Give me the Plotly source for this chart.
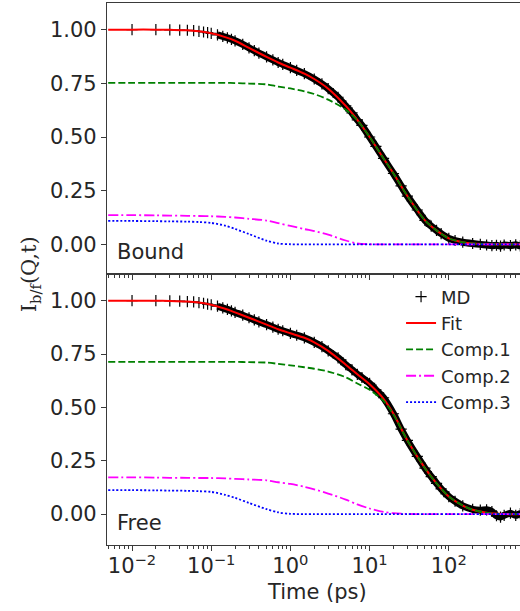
import plotly.graph_objects as go

# ---------------- data ----------------
md_t = [0.01, 0.02, 0.03, 0.04, 0.05, 0.06, 0.07, 0.08, 0.09, 0.1, 0.12, 0.14, 0.16, 0.18, 0.2,
        0.25, 0.3, 0.35, 0.4, 0.5, 0.6, 0.7, 0.8, 1.0, 1.2, 1.5, 2, 2.5, 3, 4, 5, 6, 7, 8, 10,
        12, 15, 20, 25, 30, 40, 50, 60, 70, 80, 100, 120, 150, 200, 250, 300, 350, 400, 450,
        500, 600, 700, 800, 900]
md_bound = [1.000, 1.000, 0.999, 0.998, 0.997, 0.995, 0.992, 0.989, 0.986, 0.983, 0.976, 0.969,
            0.962, 0.955, 0.948, 0.931, 0.915, 0.902, 0.891, 0.873, 0.859, 0.847, 0.838, 0.823,
            0.810, 0.795, 0.770, 0.747, 0.725, 0.685, 0.645, 0.612, 0.580, 0.554, 0.500, 0.456,
            0.400, 0.330, 0.272, 0.225, 0.160, 0.112, 0.085, 0.065, 0.050, 0.028, 0.018, 0.010,
            0.004, 0.000, -0.003, -0.006, -0.004, -0.008, -0.003, -0.006, -0.002, -0.007, -0.004]
md_free = [1.000, 1.000, 0.999, 0.998, 0.996, 0.994, 0.991, 0.988, 0.984, 0.981, 0.974, 0.966,
           0.959, 0.952, 0.945, 0.932, 0.920, 0.910, 0.901, 0.888, 0.876, 0.866, 0.859, 0.847,
           0.838, 0.826, 0.805, 0.785, 0.765, 0.732, 0.700, 0.676, 0.655, 0.640, 0.612, 0.582,
           0.545, 0.470, 0.398, 0.345, 0.270, 0.215, 0.175, 0.144, 0.118, 0.082, 0.060, 0.038,
           0.022, 0.018, 0.020, 0.012, -0.008, -0.014, -0.006, 0.004, -0.006, 0.002, -0.004]

fit_t = [0.005, 0.01, 0.02, 0.03, 0.05, 0.07, 0.1, 0.15, 0.2, 0.3, 0.5, 0.7, 1, 1.5, 2, 3, 5, 7,
         10, 15, 20, 30, 50, 70, 100, 150, 200, 300, 500, 1000]
fit_bound = [1.0, 1.0, 1.0, 0.999, 0.997, 0.992, 0.983, 0.965, 0.948, 0.915, 0.873, 0.847, 0.823,
             0.795, 0.770, 0.725, 0.645, 0.580, 0.500, 0.400, 0.330, 0.225, 0.112, 0.065, 0.028,
             0.010, 0.004, 0.001, 0.0, 0.0]
comp1_bound = [0.752, 0.752, 0.752, 0.752, 0.752, 0.752, 0.752, 0.752, 0.751, 0.749, 0.745, 0.735,
               0.726, 0.713, 0.700, 0.674, 0.627, 0.577, 0.500, 0.400, 0.330, 0.225, 0.112, 0.065,
               0.028, 0.010, 0.004, 0.001, 0.0, 0.0]
comp2_bound = [0.136, 0.136, 0.135, 0.134, 0.133, 0.132, 0.131, 0.128, 0.125, 0.119, 0.111, 0.099,
               0.086, 0.071, 0.062, 0.045, 0.018, 0.004, 0.0005, 0.0, 0.0, 0.0, 0.0, 0.0, 0.0,
               0.0, 0.0, 0.0, 0.0, 0.0]
comp3_bound = [0.109, 0.109, 0.108, 0.107, 0.106, 0.104, 0.100, 0.087, 0.072, 0.048, 0.017, 0.004,
               0.0005, 0.0, 0.0, 0.0, 0.0, 0.0, 0.0, 0.0, 0.0, 0.0, 0.0, 0.0, 0.0, 0.0, 0.0, 0.0,
               0.0, 0.0]
fit_free = [1.0, 1.0, 1.0, 0.999, 0.996, 0.991, 0.981, 0.962, 0.945, 0.920, 0.888, 0.866, 0.847,
            0.826, 0.805, 0.765, 0.700, 0.655, 0.608, 0.540, 0.470, 0.345, 0.215, 0.144, 0.082,
            0.040, 0.020, 0.006, 0.0, 0.0]
comp1_free = [0.713, 0.713, 0.713, 0.713, 0.713, 0.713, 0.713, 0.713, 0.713, 0.712, 0.710, 0.704,
              0.697, 0.688, 0.681, 0.668, 0.641, 0.612, 0.582, 0.530, 0.466, 0.345, 0.215, 0.144,
              0.082, 0.040, 0.020, 0.006, 0.0, 0.0]
comp2_free = [0.172, 0.172, 0.171, 0.170, 0.170, 0.169, 0.169, 0.167, 0.165, 0.162, 0.158, 0.149,
              0.141, 0.128, 0.116, 0.096, 0.068, 0.045, 0.026, 0.010, 0.004, 0.0005, 0.0, 0.0,
              0.0, 0.0, 0.0, 0.0, 0.0, 0.0]
comp3_free = [0.112, 0.112, 0.111, 0.110, 0.109, 0.107, 0.104, 0.090, 0.076, 0.052, 0.023, 0.008,
              0.001, 0.0, 0.0, 0.0, 0.0, 0.0, 0.0, 0.0, 0.0, 0.0, 0.0, 0.0, 0.0, 0.0, 0.0, 0.0,
              0.0, 0.0]

panel_labels = ["Bound", "Free"]
series_names = ["MD", "Fit", "Comp.1", "Comp.2", "Comp.3"]
x_tick_vals = [0.01, 0.1, 1, 10, 100]
x_tick_text = ["10<sup>−2</sup>", "10<sup>−1</sup>", "10<sup>0</sup>", "10<sup>1</sup>", "10<sup>2</sup>"]
y_tick_vals = [0.0, 0.25, 0.5, 0.75, 1.0]
y_tick_text = ["0.00", "0.25", "0.50", "0.75", "1.00"]

# ---------------- figure ----------------
FONT = "DejaVu Sans"
TXT = "#262626"
AX = "#3a3a3a"

fig = go.Figure()

panels = [
    ("x", "y", md_bound, fit_bound, comp1_bound, comp2_bound, comp3_bound, False),
    ("x2", "y2", md_free, fit_free, comp1_free, comp2_free, comp3_free, True),
]

for xa, ya, md, fit, c1, c2, c3, leg in panels:
    band_t = [t for t in md_t if t >= 0.12]
    band_v = [v for t, v in zip(md_t, md) if t >= 0.12]
    fig.add_trace(go.Scatter(x=band_t, y=band_v, mode="lines", xaxis=xa, yaxis=ya,
                             line=dict(color="black", width=7, shape="spline", smoothing=0.6),
                             showlegend=False, hoverinfo="skip"))
    fig.add_trace(go.Scatter(x=md_t, y=md, mode="markers", name=series_names[0], xaxis=xa, yaxis=ya,
                             marker=dict(symbol="cross-thin", size=8, color="black",
                                         line=dict(color="black", width=1.2)),
                             showlegend=leg))
    fig.add_trace(go.Scatter(x=fit_t, y=fit, mode="lines", name=series_names[1], xaxis=xa, yaxis=ya,
                             line=dict(color="#ff0000", width=2, shape="spline", smoothing=0.8),
                             showlegend=leg))
    fig.add_trace(go.Scatter(x=fit_t, y=c1, mode="lines", name=series_names[2], xaxis=xa, yaxis=ya,
                             line=dict(color="#008000", width=1.8, dash="7px,3px", shape="spline",
                                       smoothing=0.8),
                             showlegend=leg))
    fig.add_trace(go.Scatter(x=fit_t, y=c2, mode="lines", name=series_names[3], xaxis=xa, yaxis=ya,
                             line=dict(color="#ff00ff", width=1.8, dash="10px,3px,2px,3px",
                                       shape="spline", smoothing=0.8),
                             showlegend=leg))
    fig.add_trace(go.Scatter(x=fit_t, y=c3, mode="lines", name=series_names[4], xaxis=xa, yaxis=ya,
                             line=dict(color="#0000ff", width=1.8, dash="2px,2px", shape="spline",
                                       smoothing=0.8),
                             showlegend=leg))

minor_vals = [m * 10.0 ** e for e in range(-3, 3) for m in range(2, 10)]

xcommon = dict(type="log", range=[-2.316, 2.899], tickvals=x_tick_vals, ticktext=x_tick_text,
               ticks="outside", ticklen=5, tickwidth=1.2, tickcolor=AX,
               showline=True, linecolor=AX, linewidth=1.3, mirror=True,
               showgrid=False, zeroline=False, automargin=False,
               tickfont=dict(family=FONT, size=21, color=TXT),
               minor=dict(tickvals=minor_vals, ticks="outside", ticklen=3, tickwidth=0.9,
                          tickcolor=AX, showgrid=False))
ycommon = dict(tickvals=y_tick_vals, ticktext=y_tick_text, ticks="outside", ticklen=5,
               tickwidth=1.2, tickcolor=AX, showline=True, linecolor=AX, linewidth=1.3,
               mirror=False, showgrid=False, zeroline=False, automargin=False,
               tickfont=dict(family=FONT, size=21, color=TXT))

fig.update_layout(
    width=520, height=611,
    margin=dict(l=107, r=0, t=3, b=66, autoexpand=False),
    plot_bgcolor="white", paper_bgcolor="white",
    font=dict(family=FONT, size=18, color=TXT),
    xaxis=dict(**xcommon, anchor="y", showticklabels=False),
    xaxis2=dict(**xcommon, anchor="y2", ticklabelstandoff=-3),
    yaxis=dict(**ycommon, domain=[0.5, 1.0], range=[-0.138, 1.124], anchor="x"),
    yaxis2=dict(**ycommon, domain=[0.0, 0.5], range=[-0.145, 1.125], anchor="x2"),
    legend=dict(x=0.712, y=0.492, xanchor="left", yanchor="top", bgcolor="rgba(0,0,0,0)",
                font=dict(family=FONT, size=18, color=TXT), tracegroupgap=0),
    showlegend=True,
)

annotations = [
    dict(text=panel_labels[0], xref="x domain", yref="y domain", x=0.02, y=0.081,
         xanchor="left", yanchor="middle", showarrow=False, font=dict(family=FONT, size=21, color=TXT)),
    dict(text=panel_labels[1], xref="x2 domain", yref="y2 domain", x=0.02, y=0.081,
         xanchor="left", yanchor="middle", showarrow=False, font=dict(family=FONT, size=21, color=TXT)),
    dict(text="Time (ps)", xref="paper", yref="paper", x=0.508, y=-0.0867,
         xanchor="center", yanchor="middle", showarrow=False, font=dict(family=FONT, size=21, color=TXT)),
    dict(text="I<sub>b/f</sub>(Q,t)", xref="paper", yref="paper", x=-0.186, y=0.5,
         xanchor="center", yanchor="middle", textangle=-90, showarrow=False,
         font=dict(family="DejaVu Serif", size=21, color=TXT)),
]
fig.update_layout(annotations=annotations)

fig.write_html(
    "out.html",
    config={"displayModeBar": False},
    post_script="document.body.style.margin='0';document.body.style.overflow='hidden';",
)
